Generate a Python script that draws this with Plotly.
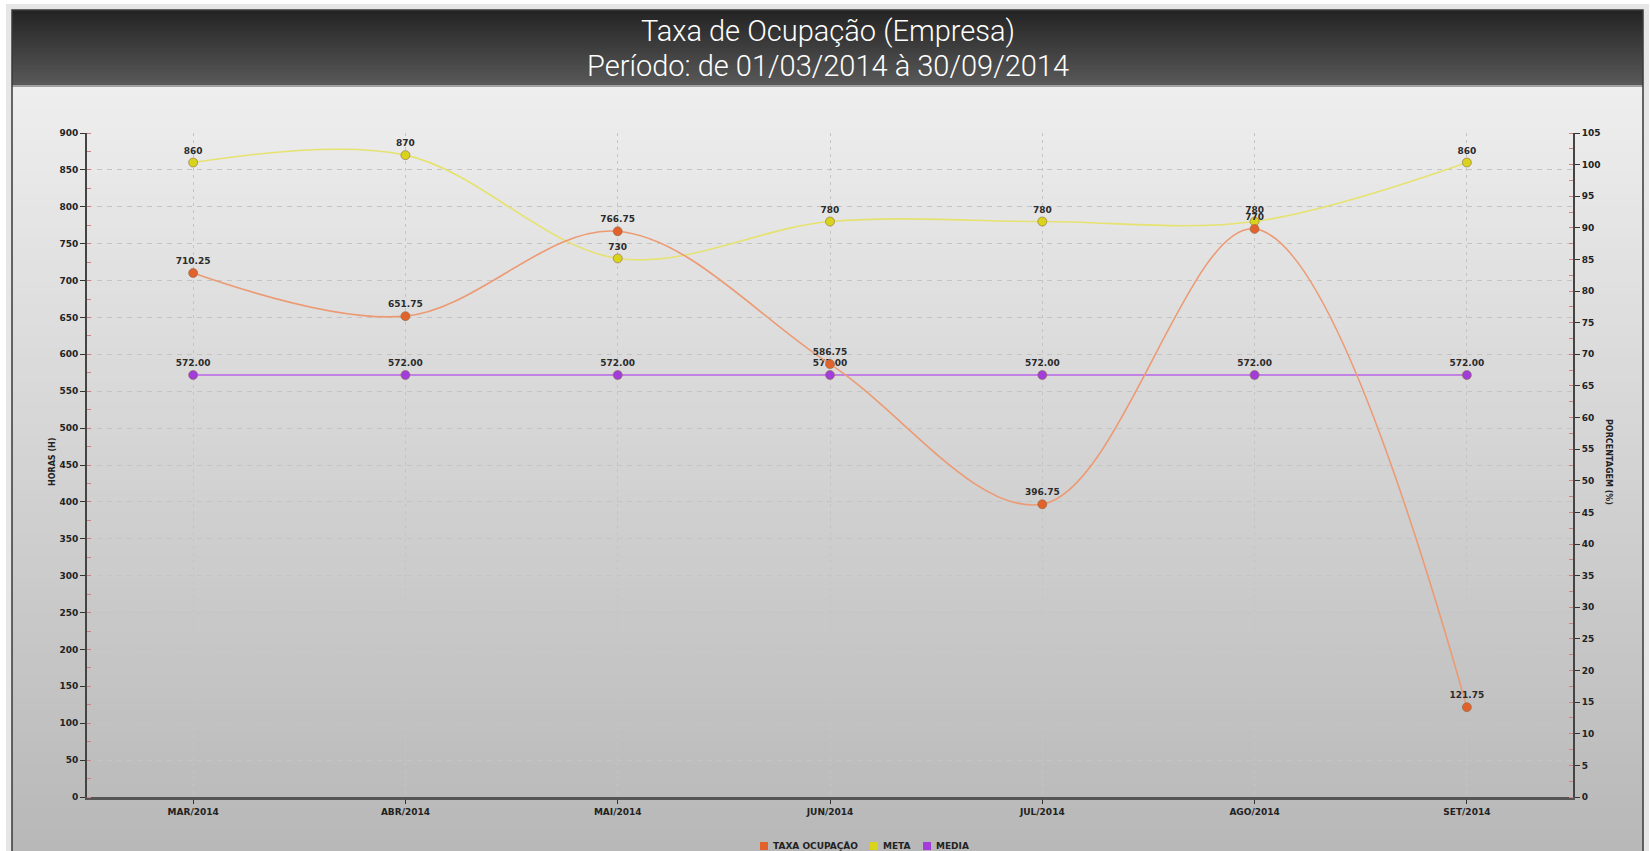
import plotly.graph_objects as go

# ---------------- data ----------------
categories = ["MAR/2014", "ABR/2014", "MAI/2014", "JUN/2014", "JUL/2014", "AGO/2014", "SET/2014"]
taxa_ocupacao = [710.25, 651.75, 766.75, 586.75, 396.75, 770, 121.75]
taxa_labels = ["710.25", "651.75", "766.75", "586.75", "396.75", "770", "121.75"]
meta = [860, 870, 730, 780, 780, 780, 860]
meta_labels = ["860", "870", "730", "780", "780", "780", "860"]
media = [572, 572, 572, 572, 572, 572, 572]
media_labels = ["572.00"] * 7
series_names = ["TAXA OCUPAÇÃO", "META", "MEDIA"]
left_title = "HORAS (H)"
right_title = "PORCENTAGEM (%)"
title_line1 = "Taxa de Ocupação (Empresa)"
title_line2 = "Período: de 01/03/2014 à 30/09/2014"

# ---------------- geometry ----------------
W, H = 1650, 851
PL, PR, PT, PB = 87, 1573, 133, 797

def px_x(px):
    return (px - PL) / (PR - PL)

def px_y(py):
    return (PB - py) / (PB - PT)

C_TAXA, C_TAXA_L = "#e2622c", "#ec9a74"
C_META, C_META_L = "#d9d31c", "#e6e270"
C_MEDIA, C_MEDIA_L = "#a23ddb", "#b865e6"
series_colors = [C_TAXA, C_META, C_MEDIA]

label_font = dict(family="DejaVu Sans", size=9, color="#2b2b2b", weight="bold")

fig = go.Figure()

def add_series(y, labels, color, lcolor, name, axis="y"):
    fig.add_trace(go.Scatter(
        x=categories, y=y, mode="lines+markers+text", name=name, yaxis=axis,
        text=labels, textposition="top center", textfont=label_font,
        line=dict(color=lcolor, width=1.6, shape="spline", smoothing=1.0),
        marker=dict(color=color, size=9, line=dict(color="#8a6a4a", width=0.6)),
        showlegend=False, cliponaxis=False, hoverinfo="x+y",
    ))

add_series(media, media_labels, C_MEDIA, C_MEDIA_L, series_names[2])
add_series(meta, meta_labels, C_META, C_META_L, series_names[1])
add_series(taxa_ocupacao, taxa_labels, C_TAXA, C_TAXA_L, series_names[0])
# empty trace to activate the right axis
fig.add_trace(go.Scatter(x=[None], y=[None], yaxis="y2", showlegend=False, hoverinfo="skip"))

shapes = []
# outer shadow
shapes.append(dict(type="rect", xref="paper", yref="paper", layer="below",
                   x0=px_x(6), x1=px_x(1649), y0=px_y(900), y1=px_y(4),
                   fillcolor="#e6e6e6", line=dict(width=0)))
# body gradient (stacked, each extends to the bottom to avoid seams)
N = 70
top, bot = 85, 851
c0, c1 = (238, 238, 238), (184, 184, 184)
for i in range(N):
    t = i / (N - 1)
    c = tuple(int(round(c0[k] + (c1[k] - c0[k]) * t)) for k in range(3))
    y0 = top + (bot - top) * i / N
    shapes.append(dict(type="rect", xref="paper", yref="paper", layer="below",
                       x0=px_x(12), x1=px_x(1643), y0=px_y(bot + 10), y1=px_y(y0),
                       fillcolor="rgb(%d,%d,%d)" % c, line=dict(width=0)))
# title bar gradient
N2 = 40
d0, d1 = (36, 36, 36), (88, 88, 88)
for i in range(N2):
    t = i / (N2 - 1)
    c = tuple(int(round(d0[k] + (d1[k] - d0[k]) * t)) for k in range(3))
    y0 = 10 + (85 - 10) * i / N2
    shapes.append(dict(type="rect", xref="paper", yref="paper", layer="below",
                       x0=px_x(12), x1=px_x(1643), y0=px_y(85), y1=px_y(y0),
                       fillcolor="rgb(%d,%d,%d)" % c, line=dict(width=0)))
# light line under title bar
shapes.append(dict(type="line", xref="paper", yref="paper", layer="below",
                   x0=px_x(12), x1=px_x(1643), y0=px_y(86), y1=px_y(86),
                   line=dict(color="#a0a0a0", width=2)))
# frame border
shapes.append(dict(type="rect", xref="paper", yref="paper", layer="below",
                   x0=px_x(12), x1=px_x(1643), y0=px_y(870), y1=px_y(10),
                   fillcolor="rgba(0,0,0,0)", line=dict(color="#3a3a3a", width=1.5)))

title_font = dict(family="Roboto, DejaVu Sans", size=29, color="white", weight=300)
annotations = [
    dict(text=title_line1, xref="paper", yref="paper", x=px_x(828), y=px_y(31),
         showarrow=False, xanchor="center", yanchor="middle", font=title_font),
    dict(text=title_line2, xref="paper", yref="paper", x=px_x(828), y=px_y(66),
         showarrow=False, xanchor="center", yanchor="middle", font=title_font),
    dict(text=left_title, xref="paper", yref="paper", x=px_x(52), y=px_y(462),
         showarrow=False, textangle=-90, xanchor="center", yanchor="middle",
         font=dict(family="DejaVu Sans", size=8, color="#222", weight="bold")),
    dict(text=right_title, xref="paper", yref="paper", x=px_x(1609), y=px_y(462),
         showarrow=False, textangle=90, xanchor="center", yanchor="middle",
         font=dict(family="DejaVu Sans", size=8, color="#222", weight="bold")),
]

# custom compact legend: square swatch + label
legend_font = dict(family="DejaVu Sans", size=9, color="#222", weight="bold")
legend_square_x = [764, 874, 927]
legend_y = 846
for nm, col, sx in zip(series_names, series_colors, legend_square_x):
    shapes.append(dict(type="rect", xref="paper", yref="paper", layer="above",
                       x0=px_x(sx - 4), x1=px_x(sx + 4), y0=px_y(legend_y + 4), y1=px_y(legend_y - 4),
                       fillcolor=col, line=dict(width=0)))
    annotations.append(dict(text=nm, xref="paper", yref="paper", x=px_x(sx + 7), y=px_y(legend_y),
                            showarrow=False, xanchor="left", yanchor="middle", font=legend_font))

tick_font = dict(family="DejaVu Sans", size=9, color="#222", weight="bold")

fig.update_layout(
    width=W, height=H,
    margin=dict(l=PL, r=W - PR, t=PT, b=H - PB, autoexpand=False),
    paper_bgcolor="white", plot_bgcolor="rgba(0,0,0,0)",
    shapes=shapes, annotations=annotations,
    showlegend=False,
    xaxis=dict(
        type="category", range=[-0.5, 6.5], tickfont=tick_font,
        showline=True, linecolor="#555", linewidth=3,
        ticks="outside", ticklen=4, tickcolor="#333",
        showgrid=True, gridcolor="#c4c4c4", griddash="3px,4px", gridwidth=1,
        zeroline=False, fixedrange=True, automargin=False,
    ),
    yaxis=dict(
        range=[0, 900], dtick=50, tickfont=tick_font,
        showline=True, linecolor="#444", linewidth=2,
        ticks="outside", ticklen=5, tickcolor="#333",
        minor=dict(dtick=25, ticks="inside", ticklen=4, tickcolor="#d08080", showgrid=False),
        showgrid=True, gridcolor="#c4c4c4", griddash="5px,5px", gridwidth=1,
        zeroline=False, fixedrange=True, automargin=False,
    ),
    yaxis2=dict(
        range=[0, 105], dtick=5, tickfont=tick_font, overlaying="y", side="right",
        showline=True, linecolor="#444", linewidth=2,
        ticks="outside", ticklen=5, tickcolor="#333",
        minor=dict(dtick=2.5, ticks="inside", ticklen=4, tickcolor="#d08080", showgrid=False),
        showgrid=False, zeroline=False, fixedrange=True, automargin=False,
    ),
)

fig.write_html("out.html", config={"displayModeBar": False},
               post_script="document.body.style.margin='0';document.body.style.overflow='hidden';")
